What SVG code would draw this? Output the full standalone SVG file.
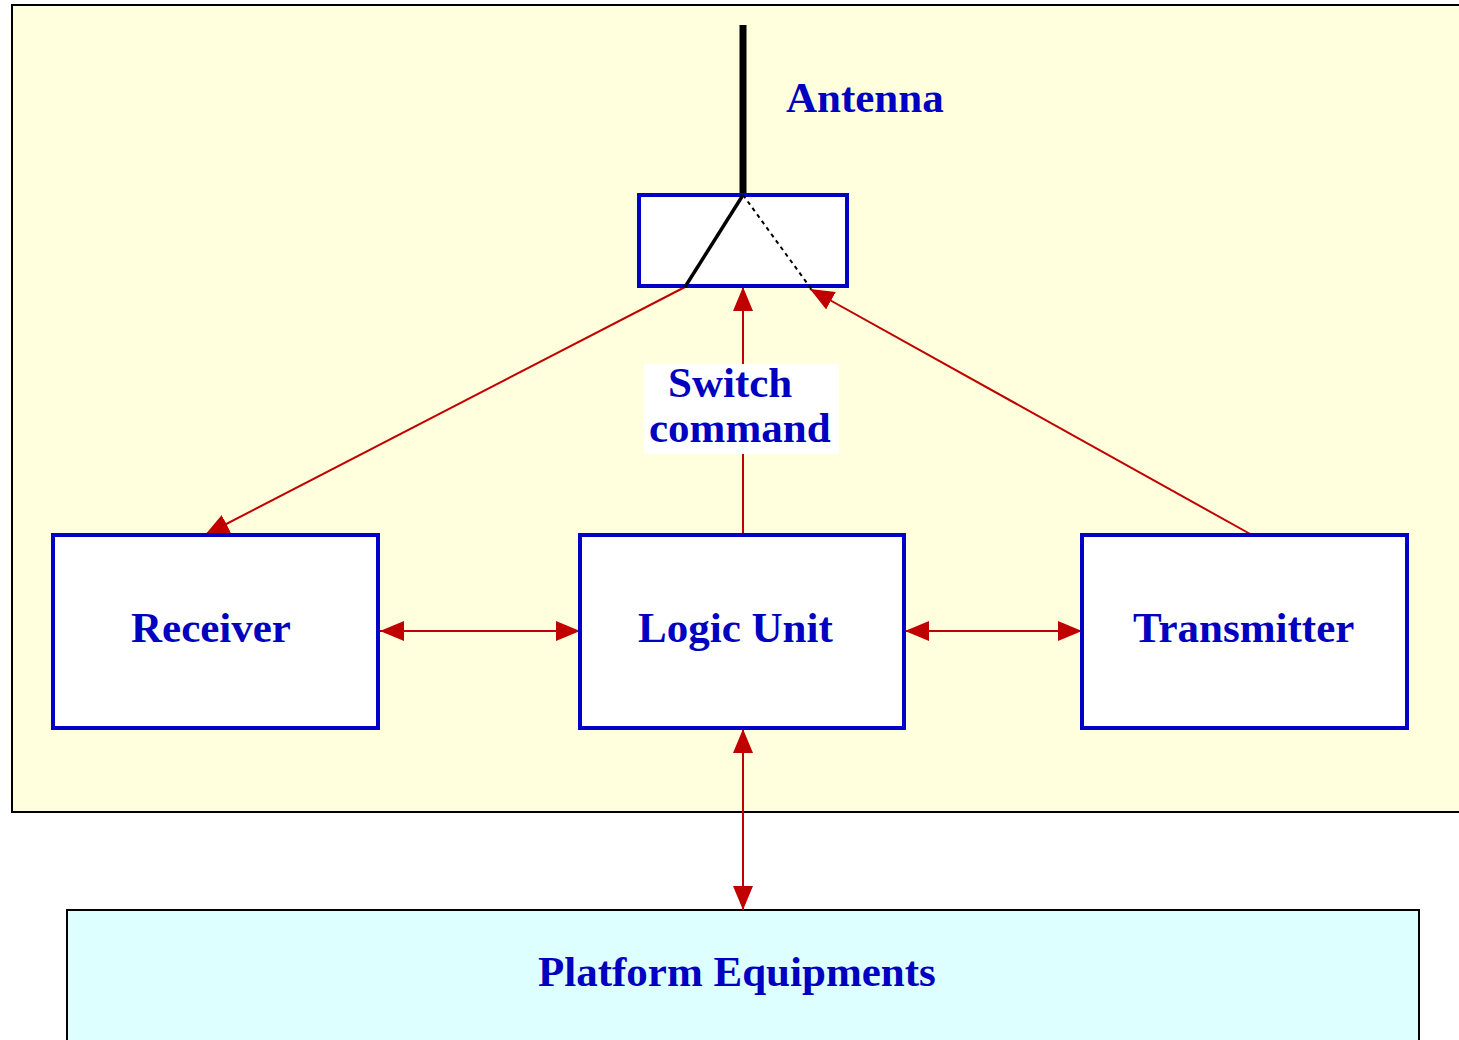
<svg xmlns="http://www.w3.org/2000/svg" width="1459" height="1040" viewBox="0 0 1459 1040">
<style>
.lbl{font-family:"Liberation Serif","Times New Roman",serif;font-weight:bold;font-size:43px;fill:#0000c0}
.box{fill:#ffffff;stroke:#0000c8;stroke-width:4}
.conn{stroke:#c00000;stroke-width:2;fill:none}
</style>
<defs>
<marker id="ahl" viewBox="0 0 24 20" refX="24" refY="10" markerWidth="24" markerHeight="20" markerUnits="userSpaceOnUse" orient="auto-start-reverse">
<path d="M0,0 L24,10 L0,20 Z" fill="#c00000"/>
</marker>
</defs>
<rect id="background" x="12" y="5" width="1460" height="807" fill="#ffffdd" stroke="#000" stroke-width="2"/>
<g id="platform">
<rect x="67" y="910" width="1352" height="140" fill="#ddffff" stroke="#000" stroke-width="2"/>
<text class="lbl" x="538" y="986">Platform Equipments</text>
</g>
<g id="connectors">
<line class="conn" x1="685" y1="287" x2="205" y2="535" marker-end="url(#ahl)"/>
<line class="conn" x1="1252" y1="535" x2="810" y2="289" marker-end="url(#ahl)"/>
<line class="conn" x1="743" y1="535" x2="743" y2="287" marker-end="url(#ahl)"/>
<line class="conn" x1="380" y1="631" x2="580" y2="631" marker-start="url(#ahl)" marker-end="url(#ahl)"/>
<line class="conn" x1="905" y1="631" x2="1082" y2="631" marker-start="url(#ahl)" marker-end="url(#ahl)"/>
<line class="conn" x1="743" y1="729" x2="743" y2="910" marker-start="url(#ahl)" marker-end="url(#ahl)"/>
</g>
<g id="switch-label">
<rect x="644" y="364" width="195" height="90" fill="#ffffff"/>
<text class="lbl" x="668" y="397">Switch</text>
<text class="lbl" x="649" y="442">command</text>
</g>
<g id="antenna">
<line x1="743" y1="25" x2="743" y2="196" stroke="#000" stroke-width="7"/>
<text class="lbl" x="786" y="112">Antenna</text>
</g>
<g id="switch">
<rect class="box" x="639" y="195" width="208" height="91"/>
<line x1="743" y1="195" x2="685" y2="287" stroke="#000" stroke-width="3.5"/>
<line x1="743" y1="195" x2="812" y2="290" stroke="#000" stroke-width="2" stroke-dasharray="4,4"/>
</g>
<g id="receiver">
<rect class="box" x="53" y="535" width="325" height="193"/>
<text class="lbl" x="131" y="642">Receiver</text>
</g>
<g id="logic-unit">
<rect class="box" x="580" y="535" width="324" height="193"/>
<text class="lbl" x="638" y="642">Logic Unit</text>
</g>
<g id="transmitter">
<rect class="box" x="1082" y="535" width="325" height="193"/>
<text class="lbl" x="1133" y="642">Transmitter</text>
</g>
</svg>
